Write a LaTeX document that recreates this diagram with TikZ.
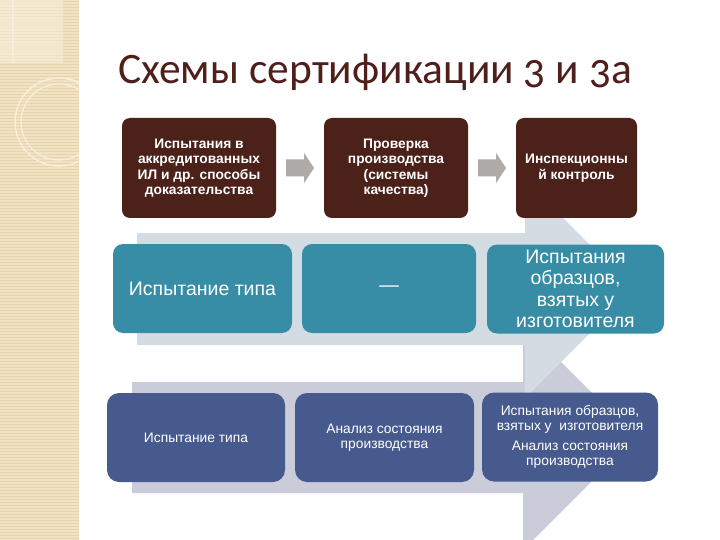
\documentclass[tikz,border=0pt]{standalone}
\usepackage{fontspec}
\setmainfont{Liberation Sans}
\newfontfamily\titlefont[Numbers=OldStyle]{Carlito}
\usetikzlibrary{calc}
\definecolor{side}{HTML}{F0E2C2}
\definecolor{sideline}{HTML}{E6D5AC}
\definecolor{sidelight}{HTML}{F7EFDC}
\definecolor{titlecol}{HTML}{4E1F1B}
\definecolor{brownbox}{HTML}{4C2119}
\definecolor{tealbox}{HTML}{378DA5}
\definecolor{navybox}{HTML}{465A8E}
\definecolor{midarrow}{HTML}{D4DCE3}
\definecolor{botarrow}{HTML}{CBCCDA}
\definecolor{arrowgray}{HTML}{ADAAA8}
\begin{document}
\begin{tikzpicture}[x=1pt,y=-1pt,
  topbox/.style={rectangle, rounded corners=8pt, fill=brownbox, text=white,
    font=\bfseries\fontsize{13.8}{15.5}\selectfont, align=center, inner sep=0pt,
    minimum height=100pt},
  midbox/.style={rectangle, rounded corners=10pt, fill=tealbox, text=white,
    font=\fontsize{19.5}{21.5}\selectfont, align=center, inner sep=0pt,
    minimum height=89pt},
  botbox/.style={rectangle, rounded corners=12pt, fill=navybox, text=white,
    font=\fontsize{13.8}{15}\selectfont, align=center, inner sep=0pt,
    minimum height=89pt},
  smallarrow/.style={fill=arrowgray}]
\useasboundingbox (0,0) rectangle (720,540);
\fill[white] (0,0) rectangle (720,540);
% sidebar
\fill[side] (0,0) rectangle (79,540);
\foreach \yy in {1.5,4.5,...,540} \draw[sideline, line width=0.8pt] (0,\yy) -- (79,\yy);
\begin{scope}
  \clip (0,0) rectangle (79,540);
  \fill[sidelight, opacity=0.6] (0,0) rectangle (63,63);
  \draw[sidelight, line width=1.5pt] (63,0) arc[start angle=0, end angle=-76, radius=63];
  \draw[sidelight, line width=1.2pt] (13,0) -- (13,63);
  \draw[sidelight, line width=1.5pt] (59,122) circle[radius=44];
  \draw[sidelight, line width=1.2pt] (59,122) circle[radius=38];
\end{scope}
% title
\node[anchor=base west, inner sep=0pt, text=titlecol, font=\titlefont\fontsize{43.5}{48}\selectfont] (title) at (118,84) {Схемы сертификации 3 и 3а};
% big background arrows
\fill[botarrow] (132,382) -- (523,382) -- (523,324) -- (636,437) -- (523,550) -- (523,493) -- (132,493) -- cycle;
\fill[midarrow] (137,233) -- (525,233) -- (525,180) -- (634,289) -- (525,398) -- (525,345) -- (137,345) -- cycle;
% top row
\node[topbox, minimum width=154pt] (t1) at (199,168) {Испытания в\\аккредитованных\\ИЛ и др. способы\\доказательства};
\node[topbox, minimum width=144pt] (t2) at (396,168) {Проверка\\производства\\(системы\\качества)};
\node[topbox, minimum width=121pt] (t3) at (576.5,168) {Инспекционны\\й контроль};
\coordinate (m1) at ($(t1.east)!0.5!(t2.west)$);
\coordinate (m2) at ($(t2.east)!0.5!(t3.west)$);
\fill[smallarrow, shift={(m1)}] (-14,-8.5) -- (4,-8.5) -- (4,-15) -- (14,0) -- (4,15) -- (4,8.5) -- (-14,8.5) -- cycle;
\fill[smallarrow, shift={(m2)}] (-14,-8.5) -- (4,-8.5) -- (4,-15) -- (14,0) -- (4,15) -- (4,8.5) -- (-14,8.5) -- cycle;
% middle row
\node[midbox, minimum width=179pt] (r1) at (202.5,288.5) {Испытание типа};
\node[midbox, minimum width=174pt] (r2) at (389,288.5) {—};
\node[midbox, minimum width=177pt] (r3) at (575.5,289) {Испытания\\образцов,\\взятых у\\изготовителя};
% bottom row
\node[botbox, minimum width=178pt] (b1) at (196,437.5) {Испытание типа};
\node[botbox, minimum width=179pt] (b2) at (384.5,437.5) {Анализ состояния\\производства};
\node[botbox, minimum width=176pt] (b3) at (570,437) {Испытания образцов,\\взятых у \ изготовителя\\[5pt]Анализ состояния\\производства};
\end{tikzpicture}
\end{document}
